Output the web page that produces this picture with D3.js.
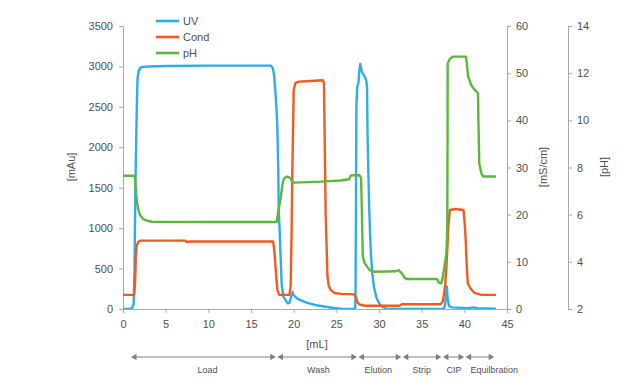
<!DOCTYPE html>
<html><head><meta charset="utf-8">
<script src="https://cdn.jsdelivr.net/npm/d3@7"></script>
<style>body{margin:0;background:#fff}svg{display:block;font-family:"Liberation Sans",Arial,sans-serif}</style>
</head><body><svg id="c" width="640" height="382"></svg>
<script>
// ---- data ----
const uvVolume = [0,0.5,0.9,1.1,1.25,1.35,1.45,1.55,1.62,1.7,1.85,2.1,3,5,10,15,17.3,17.55,17.7,17.85,18.0,18.1,18.2,18.25,18.35,18.45,18.6,18.8,19.05,19.3,19.5,19.7,19.85,20.0,20.4,20.8,21.5,22.5,23.2,24.5,25.5,27.2,27.25,27.3,27.35,27.45,27.6,27.7,27.8,27.9,28.0,28.3,28.5,28.6,28.65,28.75,28.85,28.95,29.05,29.2,29.4,29.7,30.0,30.4,31,37.5,37.7,37.85,37.95,38.05,38.2,38.5,40.5,41,41.5,43.6];
const uvValues = [0,0,5,20,60,500,1500,2100,2500,2850,2950,2990,3000,3005,3010,3010,3010,2980,2900,2700,2450,2200,1700,1200,1000,700,300,150,110,70,75,150,210,170,130,110,80,50,37,15,5,0,200,1200,2500,2750,2800,2950,3030,2980,2930,2880,2830,2750,2214,1700,1265,950,693,450,276,140,74,25,0,0,30,150,280,120,40,20,10,20,10,5];

const condVolume = [0,1.3,1.38,1.45,1.5,1.6,1.8,2.0,5,7.3,7.5,7.8,10,15,17.6,17.75,17.9,18.0,18.1,18.3,19.5,19.65,19.75,19.85,19.95,20.0,20.2,20.6,21.5,23.4,23.55,23.65,23.75,23.85,23.96,24.1,24.35,24.8,25.5,27.1,27.3,27.5,27.8,28.3,32.4,32.7,37.2,37.45,37.6,37.75,37.9,38.0,38.15,38.3,39,39.9,40.05,40.15,40.25,40.4,40.6,40.8,41.2,41.6,42,43.6];
const condValues = [3.0,3.0,4.8,7,11,13.5,14.2,14.5,14.5,14.5,14.2,14.3,14.3,14.3,14.3,12,8.3,6,4.0,3.0,3.0,5,15,30,40,46.4,47.9,48.2,48.3,48.5,48,34,20,14,7,5,4.0,3.4,3.2,3.1,2.5,1.3,0.9,0.7,0.7,1.0,1.0,1.5,3,5,9,12.5,18,21,21.2,21,18,15,10.4,5.5,4.7,4.2,3.4,3.2,3.0,3.0];

const phVolume = [0,1.35,1.45,1.55,1.6,1.8,2.0,2.4,3.0,3.4,10,18.0,18.1,18.3,18.5,18.65,18.8,19.0,19.25,19.65,19.8,19.95,20.8,23.2,25.5,26.5,26.7,27.7,27.9,28.0,28.1,28.3,28.5,28.9,29.45,32.0,32.3,32.7,33.0,33.3,36.8,37.0,37.3,37.45,37.6,37.9,38.0,38.03,38.05,38.3,38.65,40.2,40.45,40.8,41.2,41.6,41.65,41.75,42.0,42.2,43.6];
const phValues = [7.65,7.65,7.4,6.9,6.62,6.2,5.99,5.8,5.73,5.70,5.69,5.69,5.9,6.34,6.76,7.2,7.47,7.58,7.61,7.55,7.42,7.36,7.37,7.40,7.45,7.5,7.66,7.68,7.55,6.0,4.25,3.95,3.85,3.65,3.58,3.60,3.65,3.50,3.32,3.27,3.27,3.12,3.09,3.3,3.65,4.35,5.5,9,12.42,12.6,12.7,12.7,11.85,11.5,11.3,11.15,10.0,8.17,7.75,7.62,7.62];

const xTicks = [0,5,10,15,20,25,30,35,40,45];
const uvTicks = [0,500,1000,1500,2000,2500,3000,3500];
const condTicks = [0,10,20,30,40,50,60];
const phTicks = [2,4,6,8,10,12,14];

const seriesNames = ["UV","Cond","pH"];
const seriesColors = ["#2eaee6","#f25a1e","#5cb83a"];

const phaseNames = ["Load","Wash","Elution","Strip","CIP","Equilbration"];
const phaseBounds = [0.94,18.0,27.5,32.7,37.4,40.06,43.5];
const phaseLabelAt = [9.9,22.9,29.9,35.0,38.8,43.5];

// ---- drawing ----
const svg = d3.select("#c");
const plotTop = 26, plotBottom = 309, plotLeft = 123, plotRight = 507, phAxisX = 568;
const x = d3.scaleLinear().domain([0,45]).range([plotLeft,plotRight]);
const yUV = d3.scaleLinear().domain([0,3500]).range([plotBottom,plotTop]);
const yCond = d3.scaleLinear().domain([0,60]).range([plotBottom,plotTop]);
const yPh = d3.scaleLinear().domain([2,14]).range([plotBottom,plotTop]);
const fmt = d3.format("d");

const axisColor = "#a9a9a9", textColor = "#505050";
function styleAxis(g){
  g.selectAll("path,line").attr("stroke",axisColor);
  g.selectAll("text").attr("fill",textColor).style("font-size","11px");
  g.select(".domain").attr("stroke",axisColor);
}

svg.append("g").attr("transform",`translate(0,${plotBottom})`)
  .call(d3.axisBottom(x).tickValues(xTicks).tickFormat(fmt).tickSize(4).tickPadding(7).tickSizeOuter(0)).call(styleAxis);
svg.append("g").attr("transform",`translate(${plotLeft},0)`)
  .call(d3.axisLeft(yUV).tickValues(uvTicks).tickFormat(fmt).tickSize(4).tickPadding(6).tickSizeOuter(0)).call(styleAxis);
svg.append("g").attr("transform",`translate(${plotRight},0)`)
  .call(d3.axisRight(yCond).tickValues(condTicks).tickFormat(fmt).tickSize(4).tickPadding(5).tickSizeOuter(0)).call(styleAxis);
svg.append("g").attr("transform",`translate(${phAxisX},0)`)
  .call(d3.axisRight(yPh).tickValues(phTicks).tickFormat(fmt).tickSize(4).tickPadding(5).tickSizeOuter(0)).call(styleAxis);

// axis titles
function vTitle(tx,ty,t){
  svg.append("text").attr("transform",`translate(${tx},${ty}) rotate(-90)`)
    .attr("text-anchor","middle").attr("dy","0.35em").attr("fill",textColor).style("font-size","11px").text(t);
}
vTitle(71,167,"[mAu]");
vTitle(543,167,"[mS/cm]");
vTitle(604,167,"[pH]");
svg.append("text").attr("x",317).attr("y",348).attr("text-anchor","middle")
  .attr("fill",textColor).style("font-size","11px").text("[mL]");

// lines
const defs = svg.append("defs");
defs.append("clipPath").attr("id","clip").append("rect")
  .attr("x",plotLeft).attr("y",plotTop-10).attr("width",plotRight-plotLeft).attr("height",plotBottom-plotTop+10);
const plot = svg.append("g").attr("clip-path","url(#clip)");
const seriesData = [
  {vol:uvVolume, val:uvValues, y:yUV},
  {vol:condVolume, val:condValues, y:yCond},
  {vol:phVolume, val:phValues, y:yPh}
];
seriesData.forEach((s,i)=>{
  const pts = s.vol.map((v,j)=>[v,s.val[j]]);
  const line = d3.line().x(d=>x(d[0])).y(d=>s.y(d[1])).curve(d3.curveLinear);
  plot.append("path").attr("d",line(pts)).attr("fill","none")
    .attr("stroke",seriesColors[i]).attr("stroke-width",2.4)
    .attr("stroke-linejoin","round").attr("stroke-linecap","round");
});

// legend
const legY = [21,37,53];
seriesNames.forEach((n,i)=>{
  svg.append("line").attr("x1",156).attr("x2",179).attr("y1",legY[i]).attr("y2",legY[i])
    .attr("stroke",seriesColors[i]).attr("stroke-width",2.6);
  svg.append("text").attr("x",183).attr("y",legY[i]).attr("dy","0.36em")
    .attr("fill",textColor).style("font-size","11px").text(n);
});

// phases
const arrowY = 357, arrowColor = "#7f7f7f";
const ph = svg.append("g");
phaseNames.forEach((n,i)=>{
  const a = x(phaseBounds[i]) , b = x(phaseBounds[i+1]);
  const a2 = i===0 ? a : a+0.8, b2 = i===phaseNames.length-1 ? b : b-0.8;
  ph.append("line").attr("x1",a2+3).attr("x2",b2-3).attr("y1",arrowY).attr("y2",arrowY)
    .attr("stroke",arrowColor).attr("stroke-width",1);
  ph.append("path").attr("d",`M${a2},${arrowY} L${a2+5.5},${arrowY-3.2} L${a2+5.5},${arrowY+3.2} Z`).attr("fill",arrowColor);
  ph.append("path").attr("d",`M${b2},${arrowY} L${b2-5.5},${arrowY-3.2} L${b2-5.5},${arrowY+3.2} Z`).attr("fill",arrowColor);
  ph.append("text").attr("x",x(phaseLabelAt[i])).attr("y",373).attr("text-anchor","middle")
    .attr("fill",textColor).style("font-size","9px").text(n);
});
</script></body></html>
